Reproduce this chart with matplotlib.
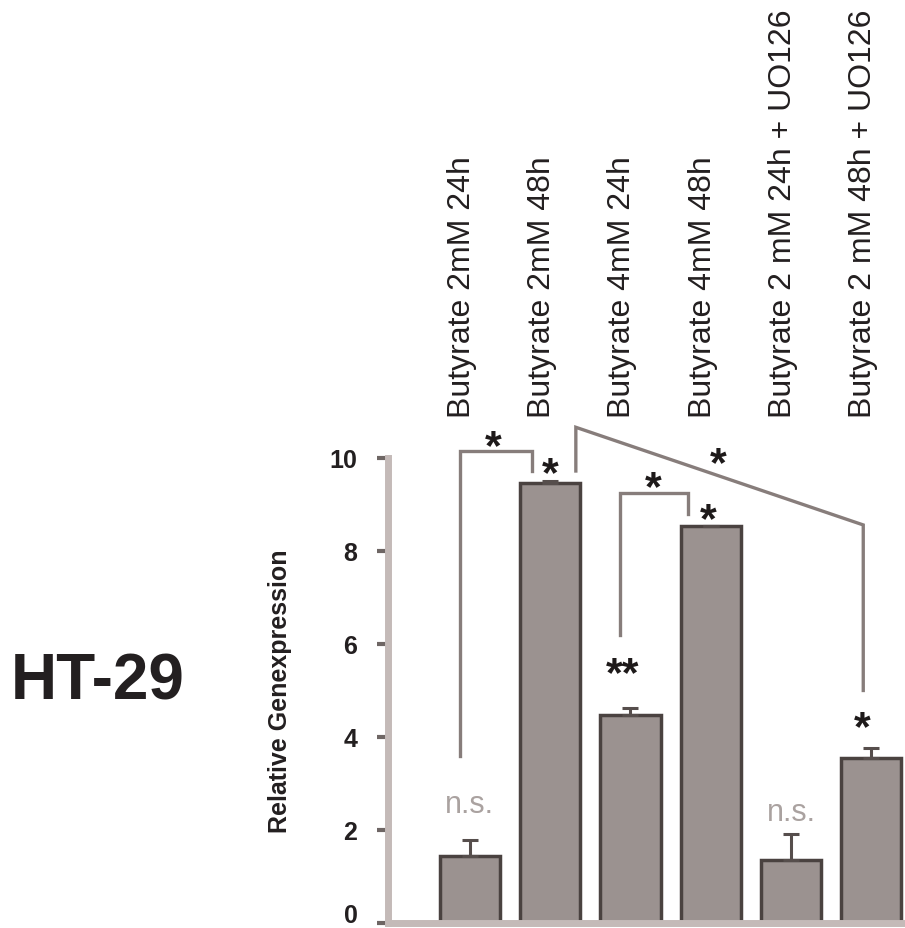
import numpy as np
import matplotlib.pyplot as plt
import matplotlib.transforms as mtransforms

plt.rcParams['font.family'] = ['Liberation Sans', 'DejaVu Sans']

# ------------------------------ data ------------------------------
labels = ['Butyrate 2mM 24h', 'Butyrate 2mM 48h', 'Butyrate 4mM 24h',
          'Butyrate 4mM 48h', 'Butyrate 2 mM 24h + UO126',
          'Butyrate 2 mM 48h + UO126']
expr = [1.44, 9.46, 4.47, 8.54, 1.35, 3.55]
err_up = [0.34, 0.05, 0.15, 0.0, 0.56, 0.21]
yticks = [0, 2, 4, 6, 8, 10]

# significance marks above the bars: (x, y, text)
sig_marks = [(0.29, 10.24, '*'), (1.0, 9.66, '*'), (3.09, 9.87, '*'),
             (2.28, 9.35, '*'), (2.97, 8.67, '*'), (1.90, 5.35, '**'),
             (4.89, 4.19, '*')]
ns_marks = [(0.0, 2.56), (4.0, 2.38)]

# comparison brackets (polyline x, polyline y)
bracket_a_x = [-0.12, -0.12, 0.77, 0.77]
bracket_a_y = [3.60, 10.15, 10.15, 9.72]
bracket_b_x = [1.87, 1.87, 2.72, 2.72]
bracket_b_y = [6.20, 9.25, 9.25, 8.80]
bracket_c_x = [1.32, 1.32, 4.90, 4.90]
bracket_c_y = [9.72, 10.66, 8.56, 5.00]

bar_col = '#9b9290'
edge_col = '#4a4240'
axis_col = '#c4bab8'
tick_col = '#6e6664'

# ------------------------------ figure ------------------------------
fig = plt.figure(figsize=(9.05, 9.29), dpi=100)
ax = fig.add_axes([0.4287, 0.0054, 0.5713, 0.5506])

x = np.arange(len(expr))
ax.bar(x, expr, width=0.75, color=bar_col, edgecolor=edge_col, linewidth=2.5,
       zorder=2)
ax.errorbar(x, expr, yerr=[np.zeros(len(expr)), err_up], fmt='none',
            ecolor='#564e4c', elinewidth=2.2, capsize=6, capthick=2.2, zorder=3)

for bx, by in [(bracket_a_x, bracket_a_y), (bracket_b_x, bracket_b_y),
               (bracket_c_x, bracket_c_y)]:
    ax.plot(bx, by, color='#877d7b', lw=2.4, clip_on=False, zorder=1,
            solid_joinstyle='miter')

for sx, sy, s in sig_marks:
    ax.text(sx, sy, s, ha='center', va='center', fontsize=31,
            fontweight='bold', color='#1e1a1a', clip_on=False)
for nx, ny in ns_marks:
    ax.text(nx, ny, 'n.s.', ha='center', va='center', fontsize=22,
            color='#aaa2a0')

# rotated group labels above the plot
for i, lab in enumerate(labels):
    ax.text(i - 0.1, 10.88, lab, rotation=90, ha='center', va='bottom',
            fontsize=23, color='#231f20', clip_on=False)

ax.set_xlim(-1.02, 5.42)
ax.set_ylim(0, 11)
ax.set_xticks([])
ax.set_yticks(yticks)
ax.set_yticklabels([str(t) for t in yticks], fontsize=18, fontweight='bold',
                   color='#231f20')
ax.tick_params(axis='y', direction='out', length=8, width=3, color=tick_col,
               pad=14)
# top tick blends into the axis line, zero label sits a little higher
ax.yaxis.get_major_ticks()[-1].tick1line.set_color(axis_col)
zero_lbl = ax.yaxis.get_major_ticks()[0].label1
zero_lbl.set_transform(zero_lbl.get_transform() +
                       mtransforms.ScaledTranslation(0, 0.1, fig.dpi_scale_trans))

for side in ['top', 'right']:
    ax.spines[side].set_visible(False)
ax.spines['left'].set_bounds(0, 10)
ax.spines['left'].set_color(axis_col)
ax.spines['left'].set_linewidth(5)
ax.spines['bottom'].set_color(axis_col)
ax.spines['bottom'].set_linewidth(5)
ax.patch.set_alpha(0)

ax.set_ylabel('Relative Genexpression', fontsize=18, fontweight='bold',
              color='#231f20')
ax.yaxis.set_label_coords(-0.185, 5 / 11)

fig.text(98 / 905, 1 - 683 / 929, 'HT-29', ha='center', va='center',
         fontsize=46, fontweight='bold', color='#231f20')

fig.savefig('out.png', dpi=100)
